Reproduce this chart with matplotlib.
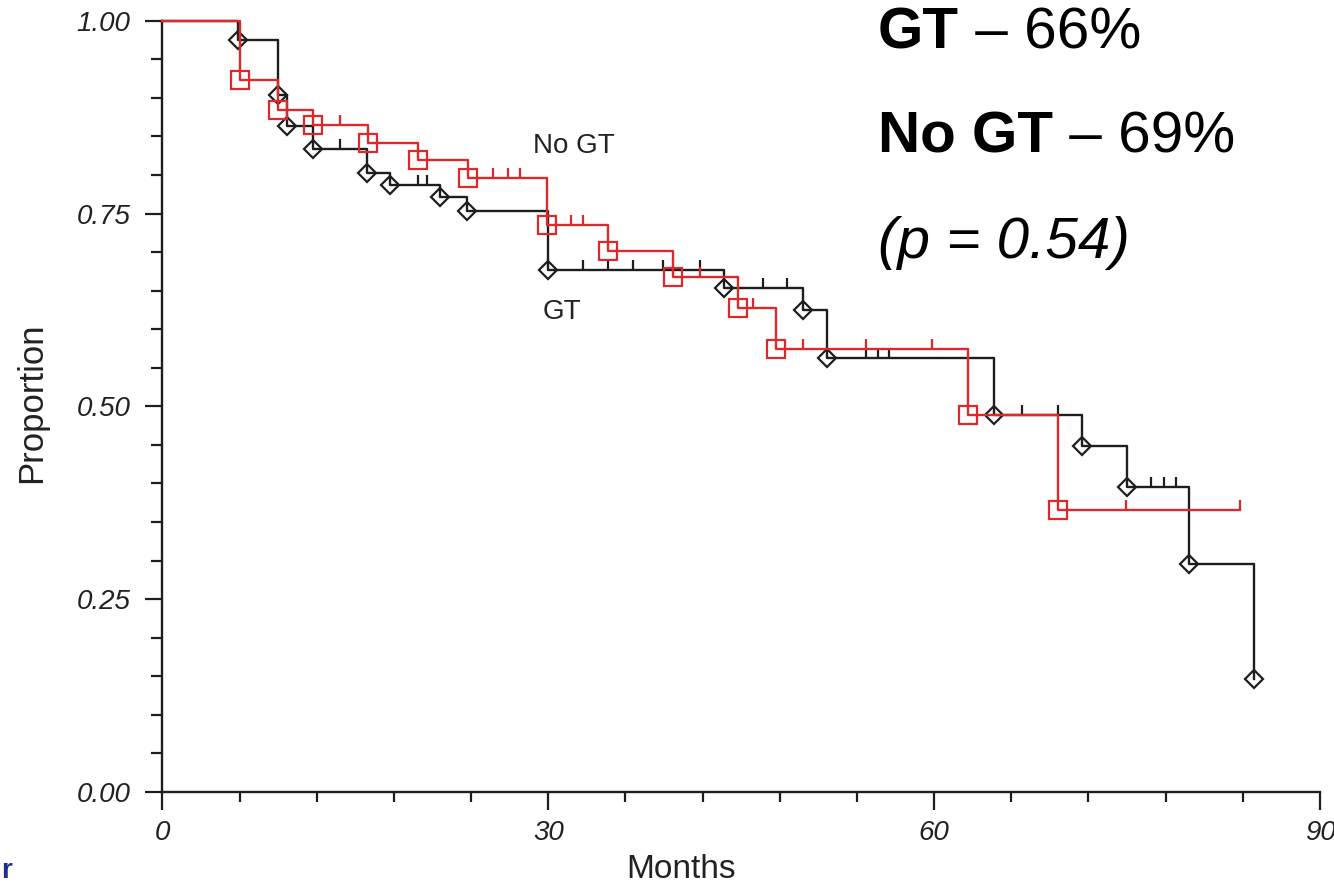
import numpy as np
import matplotlib
matplotlib.use('Agg')
import matplotlib.pyplot as plt
from matplotlib.ticker import MultipleLocator, FormatStrFormatter

plt.rcParams['font.family'] = ['Liberation Sans', 'DejaVu Sans']

# GT group (black): event times (months) and survival after each event
gt_times = [5.9, 9.0, 9.67, 11.7, 15.9, 17.7, 21.6, 23.65, 30.0, 43.7, 49.8,
            51.7, 64.65, 71.5, 75.0, 79.85, 84.9]
gt_surv = [0.9745, 0.904, 0.863, 0.833, 0.8025, 0.787, 0.772, 0.7527, 0.677,
           0.653, 0.625, 0.5625, 0.489, 0.448, 0.396, 0.296, 0.147]
gt_cens_t = [13.8, 19.9, 20.6, 32.7, 34.65, 36.6, 38.9, 41.8, 46.7, 48.6,
             54.7, 55.6, 56.5, 66.8, 69.6, 76.9, 77.9, 78.8]
gt_cens_s = [0.833, 0.787, 0.787, 0.677, 0.677, 0.677, 0.677, 0.677, 0.653,
             0.653, 0.5625, 0.5625, 0.5625, 0.489, 0.489, 0.396, 0.396, 0.396]
gt_end = 84.9

# No GT group (red)
ngt_times = [6.0, 9.0, 11.7, 16.0, 19.9, 23.75, 29.9, 34.65, 39.7, 44.75,
             47.7, 62.6, 69.6]
ngt_surv = [0.9235, 0.8846, 0.865, 0.842, 0.819, 0.796, 0.735, 0.702, 0.668,
            0.627, 0.574, 0.489, 0.366]
ngt_cens_t = [13.8, 25.7, 26.9, 27.8, 31.8, 32.7, 41.8, 45.9, 49.8, 54.7,
              59.8, 74.9, 83.8]
ngt_cens_s = [0.865, 0.796, 0.796, 0.796, 0.735, 0.735, 0.668, 0.627, 0.574,
              0.574, 0.574, 0.366, 0.366]
ngt_end = 83.8

black = '#1e1e1e'
red = '#dc2a2a'


def km_curve(ax, times, surv, cens_t, cens_s, end, color, marker, ms, z):
    t = np.concatenate([[0], times, [end]])
    s = np.concatenate([[1.0], surv, [surv[-1]]])
    ax.plot(t, s, drawstyle='steps-post', color=color, lw=1.7, zorder=z,
            clip_on=False)
    ax.plot(times, surv, ls='none', marker=marker, ms=ms, mfc='none',
            mec=color, mew=1.6, zorder=z + 0.5)
    cens_s = np.array(cens_s)
    ax.vlines(cens_t, cens_s, cens_s + 0.013, color=color, lw=1.6, zorder=z)


fig = plt.figure(figsize=(13.34, 8.84), dpi=100)
ax = fig.add_axes([0.1217, 0.1041, 0.8678, 0.8725])

km_curve(ax, gt_times, gt_surv, gt_cens_t, gt_cens_s, gt_end, black, 'D', 9.5, 3)
km_curve(ax, ngt_times, ngt_surv, ngt_cens_t, ngt_cens_s, ngt_end, red, 's', 12.5, 4)

ax.set_xlim(0, 90)
ax.set_ylim(0, 1)
for side in ['top', 'right']:
    ax.spines[side].set_visible(False)
for side in ['left', 'bottom']:
    ax.spines[side].set_linewidth(1.7)
    ax.spines[side].set_color(black)

ax.xaxis.set_major_locator(MultipleLocator(30))
ax.xaxis.set_minor_locator(MultipleLocator(6))
ax.yaxis.set_major_locator(MultipleLocator(0.25))
ax.yaxis.set_minor_locator(MultipleLocator(0.05))
ax.yaxis.set_major_formatter(FormatStrFormatter('%.2f'))
ax.tick_params(axis='x', which='major', length=13, width=1.6, pad=7,
               labelsize=20, color=black)
ax.tick_params(axis='x', which='minor', length=7, width=1.6, color=black)
ax.tick_params(axis='y', which='major', length=12, width=1.6, pad=11,
               labelsize=20, color=black)
ax.tick_params(axis='y', which='minor', length=8, width=1.6, color=black)
for lab in ax.get_xticklabels() + ax.get_yticklabels():
    lab.set_fontstyle('italic')
    lab.set_color('#222222')

ax.set_xlabel('Months', fontsize=24, color='#222222')
ax.set_ylabel('Proportion', fontsize=25, color='#222222')
ax.xaxis.set_label_coords(0.448, -0.080)
ax.yaxis.set_label_coords(-0.099, 0.505)

ax.text(28.8, 0.828, 'No GT', fontsize=20, color='#222222', va='baseline')
ax.text(29.6, 0.613, 'GT', fontsize=20, color='#222222', va='baseline')

t1 = fig.text(0.658, 0.9457, 'GT', fontsize=42, fontweight='bold', va='baseline')
ax.annotate(' \u2013 66%', xy=(1, 0), xycoords=t1, fontsize=42,
            va='bottom', ha='left', annotation_clip=False)
t2 = fig.text(0.658, 0.827, 'No GT', fontsize=42, fontweight='bold', va='baseline')
ax.annotate(' \u2013 69%', xy=(1, 0), xycoords=t2, fontsize=42,
            va='bottom', ha='left', annotation_clip=False)
fig.text(0.658, 0.708, '(p = 0.54)', fontsize=42, fontstyle='italic',
         va='baseline')

fig.text(0.001, 0.0, 'r', fontsize=20, fontweight='bold', color='#1f2d8f',
         va='bottom', ha='left')

fig.savefig('out.png', dpi=100)
